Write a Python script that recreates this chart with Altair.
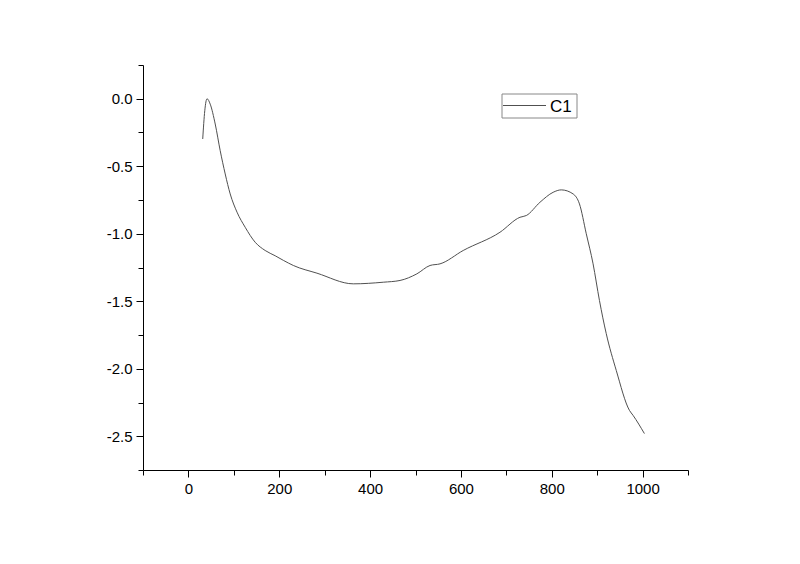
import altair as alt
import pandas as pd

x_vals = [31.5, 36, 41, 48, 59, 70, 81, 92, 107, 125, 147, 169, 191, 209, 231, 283, 363, 429, 466, 503, 532, 554, 605, 686, 730, 744, 774, 803, 821, 847, 861, 876, 891, 905, 920, 942, 971, 979, 1004]
y_vals = [-0.298, -0.089, 0.0, -0.04, -0.187, -0.385, -0.557, -0.705, -0.84, -0.952, -1.063, -1.124, -1.163, -1.197, -1.235, -1.292, -1.371, -1.359, -1.346, -1.297, -1.235, -1.223, -1.124, -0.989, -0.878, -0.865, -0.767, -0.693, -0.675, -0.705, -0.779, -1.0, -1.223, -1.494, -1.74, -2.012, -2.308, -2.345, -2.48]
series_name = "C1"

x_ticks = list(range(-100, 1101, 100))
y_ticks = [-2.75 + 0.25 * i for i in range(13)]

df = pd.DataFrame({"x": x_vals, "y": y_vals})
font = "Liberation Sans"
line_color = "#505050"

x_major = "datum.value % 200 == 0"
y_major = "abs(datum.value*2 - round(datum.value*2)) < 0.01"

line = alt.Chart(df).mark_line(strokeWidth=1, interpolate="monotone", color=line_color).encode(
    x=alt.X("x:Q", scale=alt.Scale(domain=[-100, 1100], nice=False, zero=False),
            axis=alt.Axis(title=None, values=x_ticks, grid=False, domainColor="black", tickColor="black",
                          tickSize={"condition": {"test": x_major, "value": 7}, "value": 5},
                          labelFontSize=15, labelColor="black", labelFont=font, labelPadding=4,
                          labelExpr=f"{x_major} ? datum.label : ''", format="d")),
    y=alt.Y("y:Q", scale=alt.Scale(domain=[-2.75, 0.25], nice=False, zero=False),
            axis=alt.Axis(title=None, values=y_ticks, grid=False, domainColor="black", tickColor="black",
                          tickSize={"condition": {"test": y_major, "value": 7}, "value": 5},
                          labelFontSize=15, labelColor="black", labelFont=font, labelPadding=4,
                          labelExpr=f"{y_major} ? replace(format(datum.value, '.1f'), '\u2212', '-') : ''")),
)

leg_df = pd.DataFrame({"label": [series_name]})
leg_box = alt.Chart(leg_df).mark_rect(fill="white", stroke="#888888", strokeWidth=1).encode(
    x=alt.value(359), x2=alt.value(434), y=alt.value(29), y2=alt.value(53))
leg_line = alt.Chart(leg_df).mark_rule(color=line_color, strokeWidth=1).encode(
    x=alt.value(360), x2=alt.value(403), y=alt.value(40.5))
leg_text = alt.Chart(leg_df).mark_text(align="left", baseline="middle", fontSize=17, font=font, color="black").encode(
    x=alt.value(407), y=alt.value(41.5), text="label:N")

chart = alt.layer(line, leg_box, leg_line, leg_text).properties(
    width=545, height=405,
    autosize=alt.AutoSizeParams(type="none"),
    padding={"left": 135, "top": 57, "right": 96, "bottom": 78},
    background="white",
).configure_view(strokeWidth=0)

chart.save("out.html", embed_options={"renderer": "svg", "actions": False})
